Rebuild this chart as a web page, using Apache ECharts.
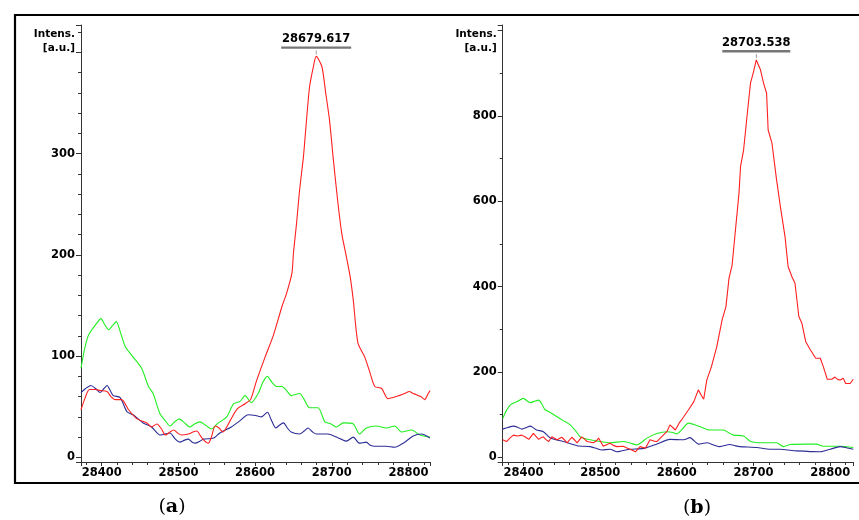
<!DOCTYPE html>
<html>
<head>
<meta charset="utf-8">
<script src="https://cdn.jsdelivr.net/npm/echarts@6/dist/echarts.min.js"></script>
<style>html,body{margin:0;padding:0;background:#fff}#c{width:859px;height:520px}</style>
</head>
<body>
<div id="c"></div>
<script>
// ---- Data (m/z, intensity a.u.) ----
const aGreen = [[28373,88],[28378,108],[28383,121],[28392,131],[28399,137],[28404,131],[28409,126],[28414,130],[28419,134],[28425,122],[28431,109],[28441,99],[28452,88],[28461,70],[28467,63],[28476,43],[28483,36],[28489,31],[28495,35],[28501,38],[28508,34],[28515,30],[28521,33],[28528,35],[28535,32],[28543,28],[28552,34],[28563,40],[28572,53],[28580,55],[28587,61],[28595,54],[28604,63],[28610,74],[28616,80],[28622,74],[28628,70],[28635,70],[28641,66],[28647,61],[28658,63],[28664,57],[28671,49],[28682,49],[28691,35],[28699,33],[28706,30],[28715,34],[28728,33],[28736,23],[28745,29],[28758,31],[28771,29],[28782,31],[28791,25],[28804,27],[28815,22],[28828,20]];
const aBlue = [[28373,64],[28379,68],[28386,71],[28392,68],[28398,64],[28403,68],[28407,71],[28411,66],[28415,61],[28424,59],[28433,45],[28441,42],[28454,34],[28465,30],[28476,22],[28482,23],[28489,24],[28496,18],[28502,15],[28508,17],[28513,18],[28518,15],[28522,14],[28528,16],[28533,18],[28546,19],[28554,24],[28569,30],[28580,36],[28591,42],[28602,41],[28608,40],[28616,44.5],[28621,37],[28627,29],[28632,32],[28637,34],[28642,29],[28647,25],[28658,23],[28664,26],[28669,29],[28675,25],[28680,23],[28695,23],[28706,20],[28712,18],[28719,16],[28728,20],[28736,14],[28745,15],[28750,12],[28756,11],[28771,11],[28782,10],[28795,15],[28806,21],[28817,23],[28828,19]];
const aRed = [[28373,47],[28378,58],[28384,67],[28392,67],[28398,66],[28407,65],[28412,60],[28418,57],[28426,57],[28435,47],[28446,38],[28459,34],[28465,30],[28472,33],[28478,28],[28483,22],[28489,25],[28494,27],[28499,24],[28504,22],[28513,23],[28519,25],[28524,26],[28529,21],[28533,17],[28539,14],[28543,20],[28548,31],[28553,29],[28558,25],[28563,30],[28568,37],[28577,48],[28587,53],[28594,57],[28602,76],[28613,99],[28624,121],[28635,149],[28641,162],[28648,182],[28650,202],[28654,231],[28658,264],[28663,297],[28667,333],[28671,366],[28676,386],[28679.617,396],[28687,386],[28692,360],[28697,333],[28702,294],[28708,251],[28713,221],[28719,198],[28724,178],[28728,155],[28734,113],[28743,99],[28750,83],[28756,70],[28765,68],[28773,58],[28784,60],[28795,63],[28801,65],[28806,63],[28810,62],[28816,60],[28821,57],[28825,62],[28828,66]];

const bGreen = [[28373,91],[28378,110],[28383,123],[28392,131],[28400,138],[28405,132],[28409,128],[28414,131],[28420,134],[28424,125],[28428,112],[28436,104],[28444,95],[28452,86],[28461,76],[28468,62],[28474,48],[28480,44],[28487,41],[28500,37],[28513,34],[28530,37],[28540,33],[28548,29],[28554,35],[28561,45],[28574,56],[28587,60],[28595,58],[28600,55],[28607,66],[28615,80],[28622,77],[28630,72],[28643,64],[28661,64],[28667,58],[28674,52],[28687,50],[28696,37],[28713,34],[28730,34],[28739,25],[28748,30],[28769,31],[28782,31],[28791,26],[28813,26],[28830,23]];
const bBlue = [[28373,66],[28380,70],[28387,73],[28393,70],[28398,66],[28404,70],[28409,73],[28413,69],[28417,64],[28426,60],[28435,45],[28452,37],[28470,27],[28487,25],[28495,21],[28502,17],[28513,19],[28522,13],[28530,16],[28539,19],[28557,21],[28574,31],[28591,42],[28609,41],[28617,46],[28623,38],[28628,31],[28639,34],[28648,29],[28656,25],[28669,30],[28676,27],[28682,25],[28704,23],[28722,19],[28735,19],[28745,17],[28756,15],[28787,13],[28800,19],[28813,25],[28822,22],[28830,19]];
const bRed = [[28373,41],[28378,37],[28383,46],[28387,52],[28392,50],[28398,52],[28403,47],[28407,42],[28413,56],[28417,48],[28420,42],[28423,46],[28426,48],[28429,42],[28433,37],[28437,48],[28441,44],[28444,41],[28450,47],[28454,40],[28457,34],[28463,47],[28467,40],[28470,34],[28476,48],[28480,42],[28483,37],[28491,34],[28495,38],[28498,45],[28504,26],[28509,30],[28513,33],[28517,28],[28522,25],[28530,26],[28535,22],[28539,19],[28546,13],[28552,25],[28559,21],[28565,41],[28570,38],[28574,37],[28580,48],[28587,60],[28591,76],[28598,64],[28603,80],[28609,95],[28615,111],[28622,130],[28628,158],[28632,145],[28635,136],[28639,181],[28645,212],[28652,259],[28659,322],[28664,353],[28668,420],[28672,450],[28676,525],[28681,619],[28683,681],[28687,720],[28691,791],[28696,877],[28700,904],[28703.538,931],[28709,908],[28713,877],[28717,853],[28719,767],[28724,736],[28730,650],[28735,587],[28741,517],[28745,447],[28750,423],[28754,408],[28759,330],[28763,314],[28768,271],[28774,252],[28781,232],[28787,232],[28791,212],[28796,183],[28802,183],[28806,188],[28810,182],[28813,181],[28817,185],[28820,173],[28826,173],[28830,183]];

const peakA = [28679.617, 396];
const peakB = [28703.538, 931];
const xRangeA = [28373, 28828];
const xRangeB = [28373, 28830];
const yRangeA = [-4.6, 427];
const yRangeB = [-11, 1013];
const yHiddenA = [400];
const yHiddenB = [1000];
const axisName = 'Intens.\n[a.u.]';
const captions = ['a', 'b'];

// ---- Styles ----
const FONT = 'DejaVu Sans';
const RED = '#ff1f1f', GREEN = '#22ee22', BLUE = '#2c2c96';
const AXC = '#333';

function xAxisDef(gi, range) {
  return {
    type: 'value', gridIndex: gi, min: range[0], max: range[1], splitNumber: 5,
    axisLine: { show: true, onZero: false, lineStyle: { color: AXC, width: 1 } },
    axisTick: { show: true, length: 4, lineStyle: { color: AXC } },
    minorTick: { show: true, splitNumber: 5, length: 3, lineStyle: { color: AXC } },
    axisLabel: { show: true, margin: 5, showMinLabel: false, showMaxLabel: false,
      color: '#000', fontFamily: FONT, fontWeight: 'bold', fontSize: 11.5,
      formatter: v => String(Math.round(v)) },
    splitLine: { show: false }, minorSplitLine: { show: false }
  };
}
function yAxisDef(gi, range, hidden, minorSplit) {
  return {
    type: 'value', gridIndex: gi, min: range[0], max: range[1], splitNumber: 5,
    name: axisName, nameLocation: 'end', nameGap: -2,
    nameTextStyle: { align: 'right', verticalAlign: 'top', padding: [0, 6, 0, 0],
      fontFamily: FONT, fontWeight: 'bold', fontSize: 10.5, lineHeight: 14, color: '#000' },
    axisLine: { show: true, onZero: false, lineStyle: { color: AXC, width: 1 } },
    axisTick: { show: true, length: 5, lineStyle: { color: AXC } },
    minorTick: { show: true, splitNumber: minorSplit, length: 3, lineStyle: { color: AXC } },
    axisLabel: { show: true, margin: 6, showMinLabel: false, showMaxLabel: false,
      color: '#000', fontFamily: FONT, fontWeight: 'bold', fontSize: 11.5,
      formatter: v => (hidden.indexOf(v) >= 0 ? '' : String(v)) },
    splitLine: { show: false }, minorSplitLine: { show: false }
  };
}
function lineSeries(data, color, xi, smooth) {
  return { type: 'line', xAxisIndex: xi, yAxisIndex: xi, data: data, showSymbol: false,
    symbol: 'none', smooth: smooth, lineStyle: { color: color, width: 1.1 }, silent: true, animation: false };
}
function peakMark(peak, w) {
  return {
    silent: true, animation: false,
    data: [{ coord: peak, value: peak[0].toFixed(3),
      symbol: 'path://M0,0H100V3H0Z M49.5,5H50.5V10H49.5Z', symbolSize: [w, 8], symbolOffset: [0, -6],
      itemStyle: { color: '#777' },
      label: { show: true, position: 'top', distance: 1, formatter: peak[0].toFixed(3),
        color: '#000', fontFamily: FONT, fontWeight: 'bold', fontSize: 11.5 } }]
  };
}

const sA = [lineSeries(aGreen, GREEN, 0, 0.25), lineSeries(aBlue, BLUE, 0, 0.25), lineSeries(aRed, RED, 0, 0.25)];
sA[2].markPoint = peakMark(peakA, 70);
const sB = [lineSeries(bGreen, GREEN, 1, 0.25), lineSeries(bBlue, BLUE, 1, 0.25), lineSeries(bRed, RED, 1, 0)];
sB[2].markPoint = peakMark(peakB, 68);

function caption(letter, cx, cy) {
  return { type: 'text', x: cx, y: cy, style: {
    text: '{p|(}{b|' + letter + '}{p|)}', align: 'center', verticalAlign: 'middle',
    rich: { p: { fontFamily: 'DejaVu Serif', fontSize: 19, fill: '#000' },
            b: { fontFamily: 'DejaVu Serif', fontSize: 19, fontWeight: 'bold', fill: '#000' } } } };
}

const chart = echarts.init(document.getElementById('c'), null, { renderer: 'canvas' });
chart.setOption({
  animation: false,
  backgroundColor: '#fff',
  grid: [
    { left: 81, top: 25, width: 349, height: 437, outerBoundsMode: 'none', containLabel: false },
    { left: 502.7, top: 25, width: 350.6, height: 437, outerBoundsMode: 'none', containLabel: false }
  ],
  xAxis: [xAxisDef(0, xRangeA), xAxisDef(1, xRangeB)],
  yAxis: [yAxisDef(0, yRangeA, yHiddenA, 5), yAxisDef(1, yRangeB, yHiddenB, 2)],
  series: sA.concat(sB),
  graphic: [
    { type: 'rect', shape: { x: 15, y: 15, width: 900, height: 468 }, style: { fill: 'none', stroke: '#000', lineWidth: 2.2 }, silent: true },
    caption(captions[0], 172, 507),
    caption(captions[1], 697, 508)
  ]
});
</script>
</body>
</html>
